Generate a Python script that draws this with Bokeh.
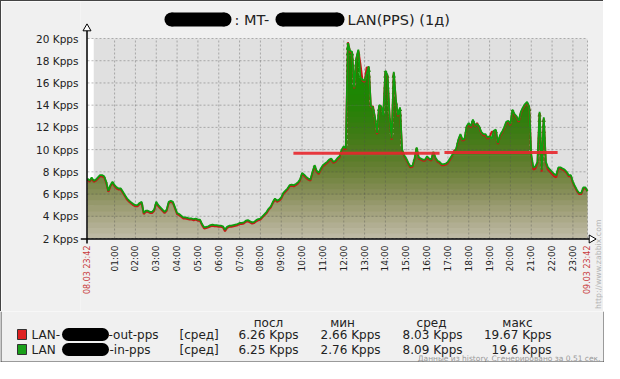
import numpy as np
import pandas as pd
from bokeh.plotting import figure
from bokeh.layouts import column
from bokeh.models import FixedTicker, Range1d
from bokeh.core.properties import value
from bokeh.embed import file_html
from bokeh.resources import INLINE

# ---------------- data ----------------
start_time = "2013-03-08 23:42"
sample_step = "6min"

in_pps = [
    7.4, 7.2, 7.5, 7.2, 7.3, 7.5, 7.7, 7.7, 7.6, 7.1,
    6.3, 6.8, 7.1, 6.8, 6.6, 6.5, 6.5, 6.2, 5.9, 5.6,
    5.4, 5.25, 5.1, 5.0, 5.0, 5.2, 5.3, 4.3, 4.5, 4.5,
    4.4, 4.4, 4.6, 5.3, 5.0, 4.8, 4.6, 4.4, 4.6, 5.3,
    5.4, 5.3, 4.8, 4.3, 4.2, 4.05, 3.9, 3.9, 3.85, 3.8,
    3.8, 3.75, 3.8, 3.7, 3.7, 3.3, 3.0, 3.05, 3.1, 3.2,
    3.25, 3.2, 3.2, 3.15, 3.15, 3.1, 2.8, 3.05, 3.15, 3.15,
    3.2, 3.25, 3.3, 3.4, 3.4, 3.45, 3.6, 3.65, 3.55, 3.45,
    3.5, 3.65, 3.75, 3.8, 4.0, 4.2, 4.4, 4.7, 4.9, 5.3,
    5.6, 5.4, 5.5, 5.7, 6.1, 6.3, 6.5, 6.8, 6.85, 6.8,
    6.9, 7.05, 7.3, 7.9, 7.75, 7.55, 7.4, 7.3, 8.0, 8.6,
    8.1, 7.9, 8.3, 8.6, 8.75, 8.9, 9.1, 9.2, 8.9, 9.0,
    9.25, 9.4, 10.0, 10.3, 10.1, 19.6, 18.9, 18.8, 15.6, 18.2,
    19.0, 16.5, 16.3, 16.2, 16.8, 17.5, 13.9, 13.8, 12.9, 11.5,
    14.0, 13.9, 13.1, 17.1, 16.7, 13.0, 11.0, 17.0, 14.5, 13.1,
    13.8, 10.0, 9.5, 9.2, 8.8, 8.5, 8.55, 9.2, 10.2, 9.3,
    9.2, 9.1, 9.1, 9.4, 9.2, 9.1, 9.8, 9.3, 9.0, 8.9,
    8.7, 8.7, 8.75, 8.9, 9.2, 9.5, 9.7, 10.1, 10.9, 11.4,
    10.9, 11.0, 12.1, 12.4, 12.1, 12.7, 12.2, 12.3, 12.1, 11.6,
    11.4, 11.4, 11.1, 11.2, 11.0, 11.7, 11.8, 10.6, 11.3, 11.6,
    12.0, 12.5, 12.6, 12.3, 13.6, 13.2, 13.0, 12.6, 13.4, 13.8,
    14.1, 14.3, 13.9, 9.5, 8.4, 8.5, 8.9, 13.4, 8.2, 12.9,
    8.9, 8.4, 8.2, 8.0, 7.8, 7.7, 8.4, 8.4, 8.3, 8.2,
    8.0, 7.7, 7.7, 7.1, 6.7, 6.35, 6.1, 6.1, 6.6, 6.6,
    6.25,
]

out_pps = [
    7.3, 7.1, 7.4, 7.1, 7.2, 7.4, 7.6, 7.6, 7.5, 7.0,
    6.2, 6.7, 7.0, 6.7, 6.5, 6.4, 6.4, 6.1, 5.8, 5.5,
    5.3, 5.15, 5.0, 4.9, 4.9, 5.1, 5.2, 4.2, 4.4, 4.4,
    4.3, 4.3, 4.5, 5.2, 4.9, 4.7, 4.5, 4.3, 4.5, 5.2,
    5.3, 5.2, 4.7, 4.2, 4.1, 3.95, 3.8, 3.8, 3.75, 3.7,
    3.7, 3.65, 3.7, 3.6, 3.6, 3.2, 2.9, 2.95, 3.0, 3.1,
    3.15, 3.1, 3.1, 3.05, 3.05, 3.0, 2.66, 2.95, 3.05, 3.05,
    3.1, 3.15, 3.2, 3.3, 3.3, 3.35, 3.5, 3.55, 3.45, 3.35,
    3.4, 3.55, 3.65, 3.7, 3.9, 4.1, 4.3, 4.6, 4.8, 5.2,
    5.5, 5.3, 5.4, 5.6, 6.0, 6.2, 6.4, 6.7, 6.75, 6.7,
    6.8, 6.95, 7.2, 7.8, 7.65, 7.45, 7.3, 7.2, 7.9, 8.5,
    8.0, 7.8, 8.2, 8.5, 8.65, 8.8, 9.0, 9.1, 8.8, 8.9,
    9.15, 9.3, 9.9, 10.2, 10.0, 19.67, 18.8, 18.7, 15.5, 18.1,
    18.9, 17.7, 16.2, 16.1, 17.4, 17.4, 13.8, 13.9, 12.8, 11.4,
    13.9, 13.8, 13.2, 17.0, 16.6, 12.9, 10.9, 16.9, 14.4, 13.0,
    13.7, 9.9, 9.4, 9.1, 8.7, 8.4, 8.45, 9.1, 10.1, 9.2,
    9.1, 9.0, 9.0, 9.3, 9.1, 9.0, 9.7, 9.2, 8.9, 8.8,
    8.6, 8.6, 8.65, 8.8, 9.1, 9.4, 9.9, 10.0, 10.8, 11.3,
    10.8, 10.9, 12.0, 12.3, 12.0, 12.6, 12.1, 12.4, 12.0, 11.5,
    11.3, 11.3, 11.0, 11.1, 11.6, 11.6, 11.7, 10.5, 11.2, 11.5,
    11.9, 12.4, 12.5, 12.2, 13.5, 13.1, 12.9, 12.5, 13.3, 13.7,
    14.0, 14.2, 13.8, 9.4, 8.2, 8.3, 8.8, 13.3, 8.0, 12.8,
    8.8, 8.2, 8.0, 7.8, 7.6, 7.5, 8.3, 8.3, 8.2, 8.1,
    7.9, 7.6, 7.6, 7.0, 6.6, 6.25, 6.0, 6.0, 6.5, 6.5,
    6.26,
]

hour_labels = ["01:00", "02:00", "03:00", "04:00", "05:00", "06:00", "07:00",
               "08:00", "09:00", "10:00", "11:00", "12:00", "13:00", "14:00",
               "15:00", "16:00", "17:00", "18:00", "19:00", "20:00", "21:00",
               "22:00", "23:00"]
hour_day = "2013-03-09"
date_labels = ["08.03 23:42", "09.03 23:42"]

y_ticks = [2, 4, 6, 8, 10, 12, 14, 16, 18, 20]
y_tick_labels = ["2 Kpps", "4 Kpps", "6 Kpps", "8 Kpps", "10 Kpps", "12 Kpps",
                 "14 Kpps", "16 Kpps", "18 Kpps", "20 Kpps"]

mark_start = ["2013-03-09 09:35", "2013-03-09 16:50"]
mark_end = ["2013-03-09 16:36", "2013-03-09 22:16"]
mark_value = [9.68, 9.75]

title_parts = [": MT-", "LAN(PPS) (1д)"]
legend_prefix = ["LAN-", "LAN"]
legend_suffix = ["-out-pps", "-in-pps"]
legend_func = "[сред]"
stat_headers = ["посл", "мин", "сред", "макс"]
out_stats = ["6.26 Kpps", "2.66 Kpps", "8.03 Kpps", "19.67 Kpps"]
in_stats = ["6.25 Kpps", "2.76 Kpps", "8.09 Kpps", "19.6 Kpps"]
footnote = "Данные из history. Сгенерировано за 0.51 сек."
url_text = "http://www.zabbix.com"

# ---------------- layout constants (page pixels) ----------------
FONT = value("DejaVu Sans")
BORDER = "#444444"
W = 604
H_MAIN, H_LEG = 312, 51
AXIS_W = 80                     # room for the y tick labels
PL, PR, PT, PB = 87, 587, 38, 238   # plot-area edges

t = pd.date_range(start_time, periods=len(in_pps), freq=sample_step)
t0, t1 = t[0], t[-1]


def ms(ts):
    return float(pd.Timestamp(ts).value // 10**6)


MS_PER_PX = (ms(t1) - ms(t0)) / (PR - PL)
UNIT_PER_PX = (y_ticks[-1] - y_ticks[0]) / (PB - PT)


def X(px):
    return ms(t0) + (px - PL) * MS_PER_PX


def Y(py):
    return y_ticks[0] + (PB - py) * UNIT_PER_PX


# ---------------- main figure (1px css border on its left and top) ----------------
p = figure(width=W - 1, height=H_MAIN - 1, x_axis_type="datetime",
           x_range=Range1d(X(AXIS_W), X(W)), y_range=Range1d(Y(H_MAIN), Y(1)),
           output_backend="svg", toolbar_location=None, title=None,
           min_border_left=AXIS_W - 1, min_border_right=0,
           min_border_top=0, min_border_bottom=0)
p.styles = {"border-left": "1px solid " + BORDER, "border-top": "1px solid " + BORDER}
p.background_fill_color = "#f0f0f0"
p.border_fill_color = "#f0f0f0"
p.outline_line_color = None
p.xaxis.visible = False
p.xgrid.visible = False
p.ygrid.visible = False

ax = p.yaxis[0]
ax.ticker = FixedTicker(ticks=y_ticks)
ax.major_label_overrides = dict(zip(y_ticks, y_tick_labels))
ax.axis_line_color = None
ax.major_tick_line_color = None
ax.minor_tick_line_color = None
ax.major_tick_out = 0
ax.major_tick_in = 0
ax.major_label_standoff = 2
ax.major_label_text_font = "DejaVu Sans"
ax.major_label_text_font_size = "10.5px"
ax.major_label_text_color = "#222222"

# plot-area background and the white strip before midnight
midnight = t0.normalize() + pd.Timedelta(days=1)
p.quad(left=[t0], right=[t1], bottom=[y_ticks[0]], top=[y_ticks[-1]],
       fill_color="#e0e0e0", line_color=None)
p.quad(left=[t0], right=[midnight], bottom=[y_ticks[0]], top=[y_ticks[-1]],
       fill_color="white", line_color=None)

# gradient fill bands under the "in" series
vals = np.array(in_pps)
stops_v = [2, 4, 6, 8, 10, 12, 14, 16, 20]
stops_c = np.array([(192, 188, 168), (168, 166, 132), (138, 144, 92), (108, 129, 57),
                    (80, 122, 32), (56, 124, 17), (36, 131, 6), (26, 137, 2),
                    (18, 143, 0)], dtype=float)


def color_at(v):
    r, g, b = (int(round(np.interp(v, stops_v, stops_c[:, k]))) for k in range(3))
    return "#%02x%02x%02x" % (r, g, b)


band = 0.5
for lo in np.arange(2.0, 20.0, band):
    hi = lo + band
    top = np.clip(vals, lo, hi)
    bot = np.where(vals > lo, np.maximum(lo - 0.06, 2.0), lo)
    p.varea(x=t, y1=bot, y2=top, fill_color=color_at(lo + band / 2), fill_alpha=1)

# dashed grid
hour_times = pd.to_datetime([hour_day + " " + h for h in hour_labels])
vx = list(hour_times) + [t1]
p.segment(x0=vx, x1=vx, y0=[y_ticks[0]] * len(vx), y1=[y_ticks[-1]] * len(vx),
          line_color="#505050", line_alpha=0.4, line_dash="2 2", line_width=1)
p.segment(x0=[t0] * len(y_ticks), x1=[t1] * len(y_ticks), y0=y_ticks, y1=y_ticks,
          line_color="#505050", line_alpha=0.4, line_dash="2 2", line_width=1)

# series
p.line(t, out_pps, line_color="#c81818", line_width=2)
p.line(t, in_pps, line_color="#0e9e0e", line_width=1.8)
p.segment(x0=pd.to_datetime(mark_start), x1=pd.to_datetime(mark_end),
          y0=mark_value, y1=mark_value, line_color="#e8262c", line_width=3,
          line_alpha=0.9)

# axis lines with open arrow heads
p.segment(x0=[X(86.5)], x1=[X(86.5)], y0=[Y(243)], y1=[Y(30)],
          line_color="black", line_width=1.5)
p.segment(x0=[X(80)], x1=[X(590)], y0=[Y(238.5)], y1=[Y(238.5)],
          line_color="black", line_width=1.5)
p.scatter(x=[X(86.5)], y=[Y(28)], marker="triangle", size=8,
          fill_color="white", line_color="black", line_width=1)
p.scatter(x=[X(591)], y=[Y(238.5)], marker="triangle", size=8, angle=-np.pi / 2,
          fill_color="white", line_color="black", line_width=1)

# rotated time labels
p.text(x=hour_times, y=[Y(245)] * len(hour_labels), text=hour_labels,
       angle=np.pi / 2, text_align="right", text_baseline="middle",
       text_font=FONT, text_font_size="9px", text_color="#222222")
p.text(x=[t0, t1], y=[Y(245)] * 2, text=date_labels,
       angle=np.pi / 2, text_align="right", text_baseline="middle",
       text_font=FONT, text_font_size="8px", text_color="#c83c3c")

# title with the two blacked-out parts
for cx, w in ((197.5, 67), (309.5, 69)):
    p.rect(x=[X(cx)], y=[Y(19)], width=w - 14, height=14,
           width_units="screen", height_units="screen",
           fill_color="black", line_color=None)
    p.scatter(x=[X(cx - (w - 14) / 2), X(cx + (w - 14) / 2)], y=[Y(19)] * 2,
              marker="circle", size=14, fill_color="black", line_color=None)
p.text(x=[X(234), X(347)], y=[Y(19)] * 2, text=title_parts,
       text_align="left", text_baseline="middle",
       text_font=FONT, text_font_size="14.5px", text_color="#222222")

# zabbix url (rotated)
p.text(x=[X(598)], y=[Y(219)], text=[url_text], angle=np.pi / 2,
       text_align="right", text_baseline="middle",
       text_font=FONT, text_font_size="7.8px", text_color="#b4b4b4")

# right border
p.segment(x0=[X(W - 0.5)], x1=[X(W - 0.5)], y0=[Y(0)], y1=[Y(H_MAIN)],
          line_color=BORDER, line_width=1)

# ---------------- legend figure ----------------
Y0 = H_MAIN
q = figure(width=W, height=H_LEG, x_range=Range1d(0, W),
           y_range=Range1d(Y0 + H_LEG, Y0),
           output_backend="svg", toolbar_location=None, title=None,
           min_border_left=0, min_border_right=0, min_border_top=0,
           min_border_bottom=0)
q.xaxis.visible = False
q.yaxis.visible = False
q.grid.visible = False
q.outline_line_color = None
q.background_fill_color = "#f0f0f0"
q.border_fill_color = "#f0f0f0"

for fig in (p, q):
    try:
        fig.frame_align = False
    except AttributeError:
        pass

rows_y = [335, 350]
head_y = 323
sq_colors = ["#dd2020", "#1aa01a"]
stats = [out_stats, in_stats]
val_right = [298, 380, 462, 551]
head_center = [268, 342, 431, 517]
LEG_SIZE = "12px"

q.text(x=head_center, y=[head_y] * 4, text=stat_headers, text_align="center",
       text_baseline="middle", text_font=FONT, text_font_size=LEG_SIZE,
       text_color="#222222")
q.rect(x=[21.5, 21.5], y=rows_y, width=9, height=10, fill_color=sq_colors,
       line_color="#333333", line_width=1)
q.text(x=[31, 31], y=rows_y, text=legend_prefix, text_align="left",
       text_baseline="middle", text_font=FONT, text_font_size=LEG_SIZE,
       text_color="#222222")
q.rect(x=[85, 85], y=rows_y, width=34, height=13, fill_color="black", line_color=None)
q.scatter(x=[68, 102, 68, 102], y=[rows_y[0], rows_y[0], rows_y[1], rows_y[1]],
          marker="circle", size=13, fill_color="black", line_color=None)
q.text(x=[108, 109], y=rows_y, text=legend_suffix, text_align="left",
       text_baseline="middle", text_font=FONT, text_font_size=LEG_SIZE,
       text_color="#222222")
q.text(x=[179, 179], y=rows_y, text=[legend_func] * 2, text_align="left",
       text_baseline="middle", text_font=FONT, text_font_size=LEG_SIZE,
       text_color="#222222")
for r in range(2):
    q.text(x=val_right, y=[rows_y[r]] * 4, text=stats[r], text_align="right",
           text_baseline="middle", text_font=FONT, text_font_size=LEG_SIZE,
           text_color="#222222")
q.text(x=[600], y=[359], text=[footnote], text_align="right",
       text_baseline="middle", text_font=FONT, text_font_size="7.5px",
       text_color="#9a9a9a")
q.segment(x0=[0.5, W - 0.5, 0], x1=[0.5, W - 0.5, W],
          y0=[Y0, Y0, Y0 + H_LEG - 0.5], y1=[Y0 + H_LEG, Y0 + H_LEG, Y0 + H_LEG - 0.5],
          line_color=BORDER, line_width=1)

layout = column(p, q, spacing=0)
open("out.html", "w").write(file_html(layout, INLINE))
